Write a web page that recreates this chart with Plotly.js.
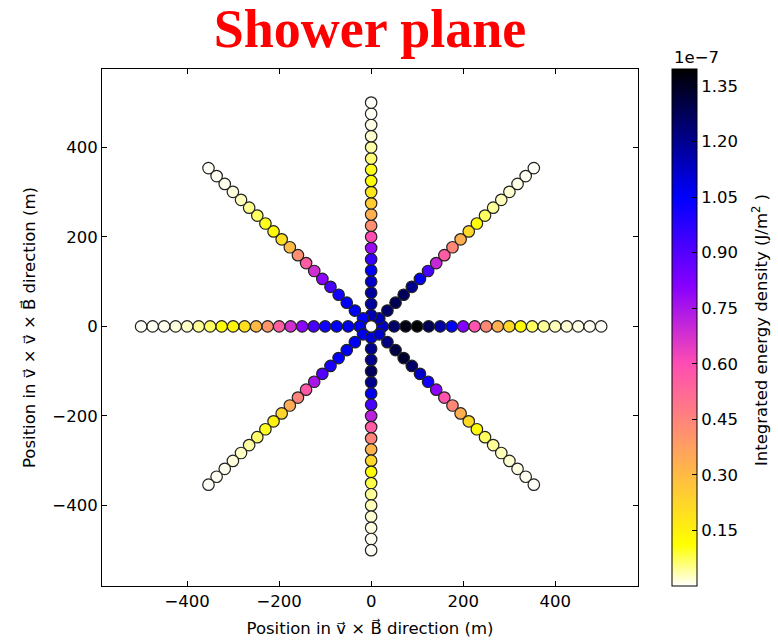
<!DOCTYPE html>
<html>
<head>
<meta charset="utf-8">
<script src="https://cdn.plot.ly/plotly-3.0.1.min.js"></script>
<style>html,body{margin:0;padding:0;background:#fff;}#chart{width:778px;height:640px;}</style>
</head>
<body>
<div id="chart"></div>
<script>
// Radial distance of antennas along each arm (m)
const radii = [25,50,75,100,125,150,175,200,225,250,275,300,325,350,375,400,425,450,475,500];
// Arm directions (degrees, counter-clockwise from +v x B)
const armAngles = [0, 45, 90, 135, 180, 225, 270, 315];
// Integrated energy density, units of 1e-7 J/m^2, one list per arm (r = 25 ... 500 m)
const arm0   = [1.12,1.25,1.37,1.395,1.28,1.17,1.05,0.82,0.58,0.44,0.33,0.22,0.12,0.07,0.045,0.03,0.02,0.012,0.006,0.003];
const arm45  = [1.15,1.25,1.28,1.27,1.20,1.07,0.92,0.70,0.56,0.44,0.33,0.22,0.12,0.07,0.045,0.03,0.02,0.012,0.006,0.003];
const arm90  = [1.15,1.18,1.18,1.12,1.05,0.95,0.78,0.60,0.42,0.33,0.25,0.18,0.12,0.10,0.06,0.04,0.02,0.01,0.005,0.003];
const arm135 = [1.05,1.06,1.05,1.02,0.92,0.80,0.68,0.56,0.42,0.30,0.20,0.13,0.10,0.07,0.05,0.03,0.015,0.008,0.005,0.003];
const arm180 = [1.05,1.07,1.06,1.02,0.92,0.80,0.68,0.55,0.40,0.30,0.20,0.14,0.11,0.07,0.045,0.025,0.015,0.008,0.005,0.003];
const arm225 = [1.07,1.06,1.06,1.04,1.00,0.90,0.75,0.57,0.45,0.34,0.23,0.15,0.10,0.065,0.04,0.025,0.015,0.008,0.005,0.003];
const arm270 = [1.10,1.20,1.20,1.27,1.20,1.07,0.92,0.72,0.56,0.45,0.32,0.22,0.12,0.08,0.045,0.03,0.02,0.012,0.006,0.003];
const arm315 = [1.12,1.22,1.30,1.33,1.25,1.12,1.02,0.80,0.58,0.44,0.33,0.22,0.12,0.07,0.045,0.03,0.02,0.012,0.006,0.003];
const centerValue = 0.0;
// Colour bar tick labels (units of 1e-7)
const cbarTicks = [0.15,0.30,0.45,0.60,0.75,0.90,1.05,1.20,1.35];
const cbarTickText = ["0.15","0.30","0.45","0.60","0.75","0.90","1.05","1.20","1.35"];
const xTicks = [-400,-200,0,200,400];
const yTicks = [-400,-200,0,200,400];
const tickText = ["\u2212400","\u2212200","0","200","400"];

const arms = [arm0, arm45, arm90, arm135, arm180, arm225, arm270, arm315];
const xs = [], ys = [], vals = [];
armAngles.forEach((a, i) => {
  const t = a * Math.PI / 180;
  radii.forEach((r, j) => {
    xs.push(r * Math.cos(t));
    ys.push(r * Math.sin(t));
    vals.push(arms[i][j]);
  });
});
xs.push(0); ys.push(0); vals.push(centerValue);

// matplotlib gnuplot2_r
const gnuplot2_r = [
  [0.0, 'rgb(255,255,255)'],
  [0.08, 'rgb(255,255,0)'],
  [0.43, 'rgb(255,77,179)'],
  [0.58, 'rgb(135,0,255)'],
  [0.75, 'rgb(0,0,255)'],
  [1.0, 'rgb(0,0,0)']
];

const font = 'DejaVu Sans, sans-serif';
const fs = 16.5;
const vec = s => s + '\u20D7';

const trace = {
  x: xs, y: ys, type: 'scatter', mode: 'markers',
  hoverinfo: 'none',
  marker: {
    size: 11.5, color: vals, colorscale: gnuplot2_r, cmin: 0, cmax: 1.396,
    line: {color: '#222', width: 1.2},
    showscale: true,
    colorbar: {
      x: 1.063, xanchor: 'left', xref: 'paper',
      y: 0.5, yanchor: 'middle', len: 1, lenmode: 'fraction',
      thickness: 25, thicknessmode: 'pixels',
      outlinewidth: 1, outlinecolor: '#000',
      tickmode: 'array', tickvals: cbarTicks, ticktext: cbarTickText,
      ticks: 'inside', ticklen: 5, tickcolor: '#000',
      tickfont: {family: font, size: fs, color: '#000'},
      xpad: 0, ypad: 0
    }
  }
};

const axisCommon = {
  showgrid: false, zeroline: false, showline: true, linecolor: '#000', linewidth: 1,
  mirror: 'ticks', ticks: 'inside', ticklen: 5, tickcolor: '#000',
  tickfont: {family: font, size: fs, color: '#000'}, tickmode: 'array'
};

const layout = {
  width: 778, height: 640,
  margin: {l: 102, r: 140, t: 69, b: 54},
  paper_bgcolor: '#fff', plot_bgcolor: '#fff',
  showlegend: false,
  title: {text: '<b>Shower plane</b>', x: 0.5, xanchor: 'center', xref: 'paper',
          y: 0.985, yanchor: 'top', yref: 'container',
          font: {family: 'Liberation Serif, Times New Roman, serif', size: 54, color: '#ff0000'}},
  xaxis: Object.assign({}, axisCommon, {
    range: [-585, 580], tickvals: xTicks, ticktext: tickText,
    title: {text: 'Position in ' + vec('v') + ' \u00D7 ' + vec('B') + ' direction (m)', standoff: 12,
            font: {family: font, size: fs, color: '#000'}}
  }),
  yaxis: Object.assign({}, axisCommon, {
    range: [-580, 575], tickvals: yTicks, ticktext: tickText,
    title: {text: 'Position in ' + vec('v') + ' \u00D7 ' + vec('v') + ' \u00D7 ' + vec('B') + ' direction (m)', standoff: 12,
            font: {family: font, size: fs, color: '#000'}}
  }),
  annotations: [{
    text: '1e\u22127', xref: 'paper', yref: 'paper', x: 1.063, y: 1.0, xanchor: 'left', yanchor: 'bottom',
    showarrow: false, font: {family: font, size: fs, color: '#000'}
  }, {
    text: 'Integrated energy density (J/m<sup>2</sup> )', xref: 'paper', yref: 'paper',
    x: 1.2276, y: 0.495, xanchor: 'center', yanchor: 'middle', textangle: -90,
    showarrow: false, font: {family: font, size: fs, color: '#000'}
  }]
};

Plotly.newPlot('chart', [trace], layout, {displayModeBar: false, staticPlot: true});
</script>
</body>
</html>
